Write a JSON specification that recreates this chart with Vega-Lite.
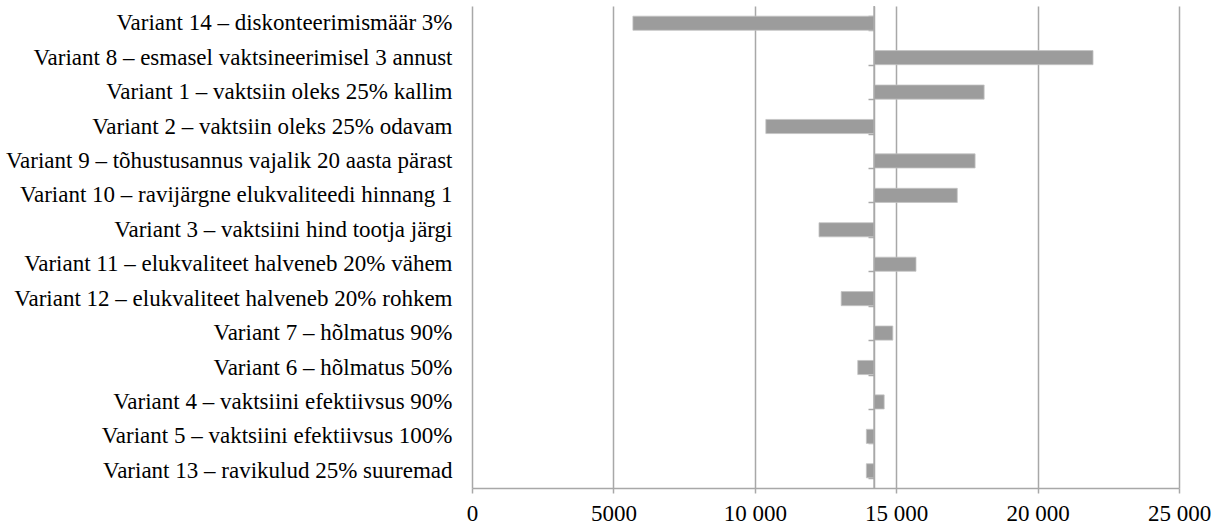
{
  "$schema": "https://vega.github.io/schema/vega-lite/v6.json",
  "autosize": {"type": "none"},
  "width": 707,
  "height": 482,
  "padding": {"left": 472, "top": 6, "right": 39, "bottom": 39},
  "background": "white",
  "config": {
    "view": {"stroke": null},
    "font": "Times New Roman, Liberation Serif, serif"
  },
  "data": {
    "values": [
      {"order": 1, "label": "Variant 14 – diskonteerimismäär 3%", "value": 5690, "base": 14220},
      {"order": 2, "label": "Variant 8 – esmasel vaktsineerimisel 3 annust", "value": 21960, "base": 14220},
      {"order": 3, "label": "Variant 1 – vaktsiin oleks 25% kallim", "value": 18110, "base": 14220},
      {"order": 4, "label": "Variant 2 – vaktsiin oleks 25% odavam", "value": 10390, "base": 14220},
      {"order": 5, "label": "Variant 9 – tõhustusannus vajalik 20 aasta pärast", "value": 17790, "base": 14220},
      {"order": 6, "label": "Variant 10 – ravijärgne elukvaliteedi hinnang 1", "value": 17160, "base": 14220},
      {"order": 7, "label": "Variant 3 – vaktsiini hind tootja järgi", "value": 12270, "base": 14220},
      {"order": 8, "label": "Variant 11 – elukvaliteet halveneb 20% vähem", "value": 15700, "base": 14220},
      {"order": 9, "label": "Variant 12 – elukvaliteet halveneb 20% rohkem", "value": 13055, "base": 14220},
      {"order": 10, "label": "Variant 7 – hõlmatus 90%", "value": 14880, "base": 14220},
      {"order": 11, "label": "Variant 6 – hõlmatus 50%", "value": 13640, "base": 14220},
      {"order": 12, "label": "Variant 4 – vaktsiini efektiivsus 90%", "value": 14575, "base": 14220},
      {"order": 13, "label": "Variant 5 – vaktsiini efektiivsus 100%", "value": 13945, "base": 14220},
      {"order": 14, "label": "Variant 13 – ravikulud 25% suuremad", "value": 13945, "base": 14220}
    ]
  },
  "layer": [
    {
      "mark": {"type": "bar", "color": "#9c9c9c", "stroke": "#c4c4c4", "strokeWidth": 0.8},
      "encoding": {
        "y": {
          "field": "label",
          "type": "nominal",
          "sort": {"field": "order", "order": "ascending"},
          "scale": {"paddingInner": 0.59, "paddingOuter": 0.295},
          "axis": {
            "title": null,
            "domain": false,
            "ticks": false,
            "grid": false,
            "labelPadding": 20,
            "labelFont": "Times New Roman, Liberation Serif, serif",
            "labelFontSize": 23,
            "labelColor": "#000000",
            "labelLimit": 0
          }
        },
        "x": {
          "field": "value",
          "type": "quantitative",
          "scale": {"domain": [0, 25000], "nice": false, "zero": true},
          "axis": {
            "title": null,
            "values": [0, 5000, 10000, 15000, 20000, 25000],
            "labelExpr": "datum.value >= 10000 ? replace(format(datum.value, ','), ',', ' ') : format(datum.value, 'd')",
            "grid": true,
            "gridColor": "#a8a8a8",
            "gridWidth": 1.5,
            "domainColor": "#a8a8a8",
            "domainWidth": 1.5,
            "tickColor": "#a8a8a8",
            "tickWidth": 1.5,
            "tickSize": 5,
            "labelPadding": 9,
            "labelFont": "Times New Roman, Liberation Serif, serif",
            "labelFontSize": 23,
            "labelColor": "#000000",
            "labelFlush": false,
            "labelOverlap": false
          }
        },
        "x2": {"field": "base"}
      }
    },
    {
      "mark": {"type": "rule", "color": "#a8a8a8", "strokeWidth": 1.5},
      "encoding": {
        "x": {"field": "base", "type": "quantitative", "aggregate": "min"}
      }
    },
    {
      "mark": {"type": "point", "opacity": 0},
      "encoding": {
        "y": {
          "field": "label",
          "type": "nominal",
          "sort": {"field": "order", "order": "ascending"},
          "axis": {
            "orient": "left",
            "offset": -402,
            "title": null,
            "labels": false,
            "grid": false,
            "domain": true,
            "domainColor": "#a8a8a8",
            "domainWidth": 1.5,
            "ticks": true,
            "tickBand": "extent",
            "tickColor": "#a8a8a8",
            "tickWidth": 1.5,
            "tickSize": 6
          }
        }
      }
    }
  ],
  "resolve": {"axis": {"y": "independent"}}
}
